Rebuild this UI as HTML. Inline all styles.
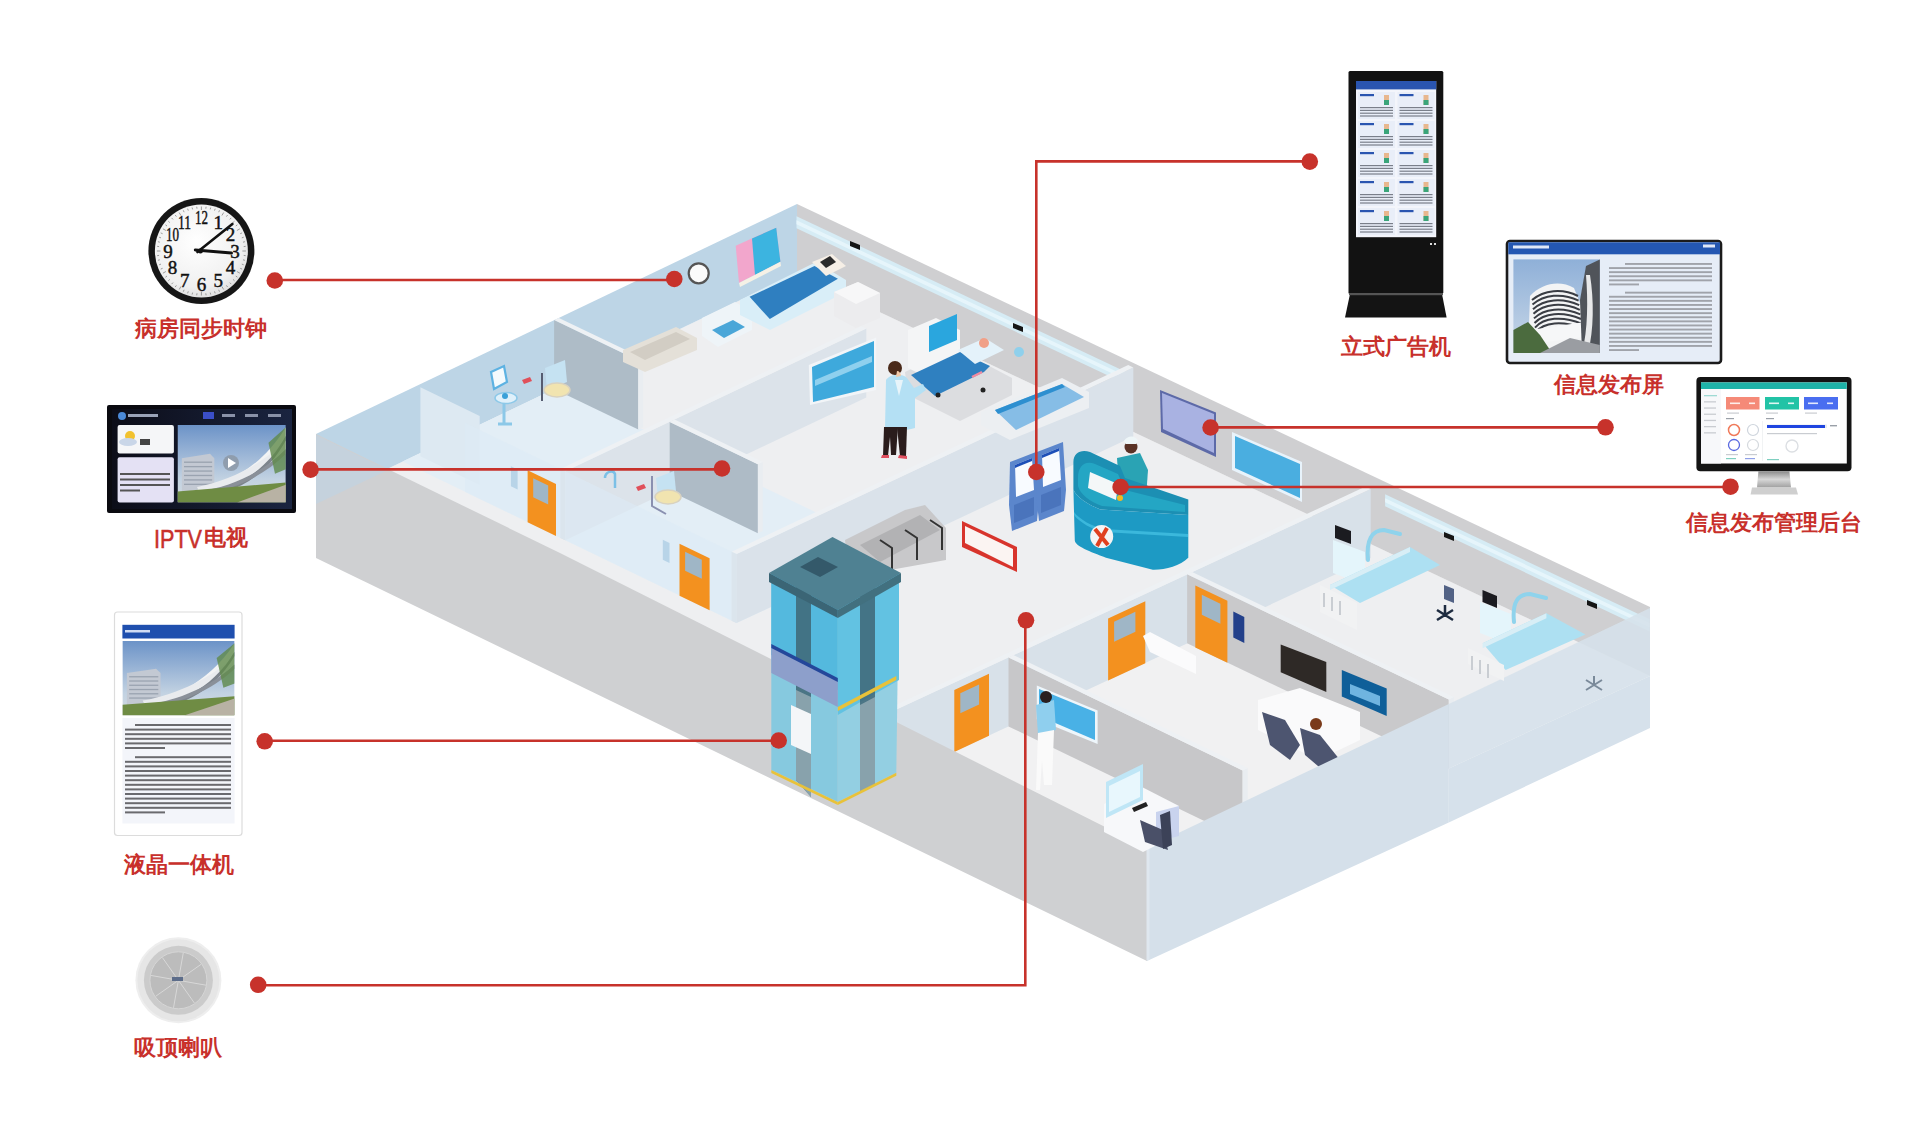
<!DOCTYPE html>
<html><head><meta charset="utf-8"><title>hospital</title>
<style>
html,body{margin:0;padding:0;background:#ffffff;}
body{width:1920px;height:1128px;overflow:hidden;position:relative;font-family:"Liberation Sans",sans-serif;}
svg{position:absolute;left:0;top:0;}
.lab text{font-family:"Liberation Sans",sans-serif;font-size:22px;font-weight:bold;fill:#c8302b;}
</style></head><body>
<svg width="1920" height="1128" viewBox="0 0 1920 1128">
<defs>
<radialGradient id="clockface" cx="0.45" cy="0.4" r="0.7"><stop offset="0" stop-color="#ffffff"/><stop offset="0.7" stop-color="#f0f0f0"/><stop offset="1" stop-color="#d5d5d5"/></radialGradient>
<linearGradient id="tvbg" x1="0" y1="0" x2="1" y2="0"><stop offset="0" stop-color="#0c0d18"/><stop offset="1" stop-color="#1a2440"/></linearGradient>
<linearGradient id="sky" x1="0" y1="0" x2="0" y2="1"><stop offset="0" stop-color="#6c93c8"/><stop offset="0.7" stop-color="#c2d2e2"/><stop offset="1" stop-color="#d4dbe0"/></linearGradient>
<linearGradient id="sky2" x1="0" y1="0" x2="0" y2="1"><stop offset="0" stop-color="#3c6cc0"/><stop offset="0.6" stop-color="#b4c8e2"/><stop offset="1" stop-color="#cfd6dc"/></linearGradient>
<linearGradient id="sky3" x1="0" y1="0" x2="0" y2="1"><stop offset="0" stop-color="#8fb0d8"/><stop offset="1" stop-color="#c9d8e8"/></linearGradient>
<linearGradient id="stand" x1="0" y1="0" x2="0" y2="1"><stop offset="0" stop-color="#8a8a8a"/><stop offset="0.5" stop-color="#d8d8d8"/><stop offset="1" stop-color="#a0a0a0"/></linearGradient>
</defs>
<g id="building">
<polygon points="316.0,503.0 1147.0,907.0 1650.0,676.0 797.0,273.0" fill="#eeeff1" />
<polygon points="316.0,503.0 797.0,273.0 797.0,204.0 316.0,434.0" fill="#bdd5e6" />
<polygon points="797.0,273.0 1650.0,676.0 1650.0,607.0 797.0,204.0" fill="#cfcfd1" />
<polygon points="796.5,228.2 1129.2,385.4 1129.2,373.4 796.5,216.2" fill="#d6ecf5" />
<polygon points="796.5,224.2 1129.2,381.4 1129.2,377.4 796.5,220.2" fill="#e6f5fb" />
<polygon points="1385.1,506.3 1649.5,631.2 1649.5,619.2 1385.1,494.3" fill="#d6ecf5" />
<polygon points="1385.1,502.3 1649.5,627.2 1649.5,623.2 1385.1,498.3" fill="#e6f5fb" />
<path d="M850,241 l10,4 l0,5 l-10,-4 z" fill="#151515"/>
<path d="M1013,323 l10,4 l0,5 l-10,-4 z" fill="#151515"/>
<path d="M1444,532 l10,4 l0,5 l-10,-4 z" fill="#151515"/>
<path d="M1587,600 l10,4 l0,5 l-10,-4 z" fill="#151515"/>
<polygon points="402.6,461.6 736.6,623.1 893.3,549.4 556.5,388.0" fill="#e3eef6" />
<polygon points="889.4,781.8 1147.0,907.0 1448.8,768.4 1187.1,643.3" fill="#f1f1f2" />
<polygon points="554.1,389.1 638.3,429.5 638.3,360.5 554.1,320.1" fill="#aebcc7" />
<polygon points="638.3,429.5 643.1,427.2 643.1,358.2 638.3,360.5" fill="#e9edf1" />
<polygon points="554.1,320.1 638.3,360.5 643.1,358.2 558.9,317.9" fill="#eef1f4" />
<polygon points="420.4,456.3 479.7,485.0 479.7,416.0 420.4,387.3" fill="#dde9f2" />
<polygon points="560.4,537.9 565.4,540.3 565.4,471.3 560.4,468.9" fill="#d9dde2" />
<polygon points="565.4,540.3 866.3,397.6 866.3,328.6 565.4,471.3" fill="#dce3ea" />
<polygon points="560.4,468.9 565.4,471.3 866.3,328.6 861.2,326.2" fill="#eef1f4" />
<polygon points="669.7,490.9 757.9,533.2 757.9,464.2 669.7,421.9" fill="#aebbc6" />
<polygon points="757.9,533.2 762.8,530.9 762.8,461.9 757.9,464.2" fill="#e9edf1" />
<polygon points="669.7,421.9 757.9,464.2 762.8,461.9 674.6,419.6" fill="#eef1f4" />
<polygon points="731.6,620.7 736.6,623.1 736.6,554.1 731.6,551.7" fill="#d9dde2" />
<polygon points="736.6,623.1 1133.3,436.5 1133.3,367.5 736.6,554.1" fill="#dae2ea" />
<polygon points="731.6,551.7 736.6,554.1 1133.3,367.5 1128.2,365.1" fill="#eef1f4" />
<path d="M491,372 l13,-6 l3,16 l-13,7 z" fill="#f4fafd" stroke="#5db2e2" stroke-width="2.2"/>
<ellipse cx="506" cy="398" rx="11" ry="5.5" fill="#dff0fa" stroke="#8cc8e8" stroke-width="1.5"/>
<circle cx="505" cy="396" r="3" fill="#3aa0d8"/>
<path d="M504,403 l0,20 M498,424 l14,0" stroke="#8cc8e8" stroke-width="3"/>
<path d="M545,368 l20,-8 l2,22 l-20,8 z" fill="#c5e2f2"/>
<ellipse cx="557" cy="390" rx="13" ry="7" fill="#f1e4b0" stroke="#d8d2c0" stroke-width="1.5"/>
<path d="M542,373 l0,28" stroke="#555c70" stroke-width="2"/>
<path d="M522,380 l8,-3 l2,4 l-8,3 z" fill="#e0505a"/>
<path d="M656,478 l18,-7 l2,20 l-18,7 z" fill="#c5e2f2"/>
<ellipse cx="668" cy="497" rx="13" ry="7" fill="#f1e4b0" stroke="#d8d2c0" stroke-width="1.5"/>
<path d="M652,476 l0,30 l14,8" stroke="#8a90b0" stroke-width="2" fill="none"/>
<path d="M636,487 l8,-3 l2,4 l-8,3 z" fill="#e0505a"/>
<path d="M605,478 c0,-6 8,-9 10,-4 l0,14" stroke="#7cc0e6" stroke-width="2.5" fill="none"/>
<polygon points="465.2,491.9 736.6,623.1 736.6,554.1 465.2,422.9" fill="#dcebf5" opacity="0.55"/>
<polygon points="527.6,522.3 556.0,536.0 556.0,484.0 527.6,470.3" fill="#f3911f" />
<polygon points="533.2,497.2 548.2,504.5 548.2,485.5 533.2,478.2" fill="#9fb6c6" />
<polygon points="510.9,486.2 517.6,489.4 517.6,469.4 510.9,466.2" fill="#b8d4e8" />
<polygon points="679.5,595.8 709.6,610.3 709.6,558.3 679.5,543.8" fill="#f3911f" />
<polygon points="685.1,570.7 701.8,578.8 701.8,559.8 685.1,551.7" fill="#9fb6c6" />
<polygon points="662.8,559.7 669.5,562.9 669.5,542.9 662.8,539.7" fill="#b8d4e8" />
<circle cx="698.7" cy="273.3" r="10" fill="#fbfbfb" stroke="#555" stroke-width="2.2"/>
<polygon points="735.7,245.7 776.2,227.7 780.4,261.7 739.0,283.0" fill="#f2a6cc" />
<polygon points="752.0,238.5 776.2,227.7 780.4,261.7 755.0,275.0" fill="#3cb4e0" />
<polygon points="739.0,283.0 780.4,261.7 781.0,266.0 740.0,287.0" fill="#f5f1e6" />
<polygon points="623.0,350.0 676.0,327.0 697.0,338.0 697.0,350.0 645.0,372.0 623.0,362.0" fill="#e4e0d8" />
<polygon points="630.0,352.0 676.0,332.0 690.0,339.0 645.0,360.0" fill="#d2cdc4" />
<polygon points="702.0,318.0 735.0,302.0 752.0,312.0 752.0,330.0 718.0,347.0 702.0,336.0" fill="#eef4f8" />
<polygon points="712.0,330.0 733.0,320.0 745.0,327.0 724.0,338.0" fill="#4aa6d8" />
<polygon points="740.0,300.0 816.0,262.0 846.0,280.0 846.0,292.0 770.0,330.0 740.0,315.0" fill="#d9eef8" />
<polygon points="749.6,296.8 814.5,266.0 837.9,278.7 769.8,319.1" fill="#2f7fc0" />
<polygon points="812.0,262.0 832.0,254.0 846.0,266.0 826.0,276.0" fill="#f6efe6" />
<polygon points="820.0,262.0 830.0,256.0 836.0,262.0 826.0,268.0" fill="#2b2b2b" />
<polygon points="834.0,292.0 858.0,282.0 880.0,293.0 880.0,318.0 856.0,328.0 834.0,316.0" fill="#ececee" />
<polygon points="834.0,292.0 858.0,282.0 880.0,293.0 856.0,304.0" fill="#f7f7f8" />
<polygon points="808.8,365.0 876.2,337.5 876.2,390.0 810.0,405.0" fill="#f2f5f8" />
<polygon points="812.0,367.0 874.0,341.0 874.0,387.0 813.0,402.0" fill="#3ea9dc" />
<polygon points="815.0,380.0 872.0,356.0 872.0,362.0 815.0,386.0" fill="#8fd0ee" />
<polygon points="905.0,372.0 955.0,348.0 1012.0,378.0 1012.0,395.0 960.0,421.0 908.0,395.0" fill="#dcdde0" />
<polygon points="908.0,330.0 936.0,318.0 960.0,330.0 960.0,368.0 932.0,380.0 908.0,368.0" fill="#f4f5f6" />
<polygon points="929.0,326.0 957.0,314.0 957.0,340.0 929.0,352.0" fill="#2aa6de" />
<polygon points="911.0,375.0 960.0,352.0 990.0,366.0 984.0,372.0 935.0,396.0" fill="#2f80c0" />
<polygon points="958.0,350.0 985.0,338.0 1004.0,350.0 975.0,364.0" fill="#e4f2fa" />
<circle cx="984" cy="343" r="5" fill="#f0a088"/>
<circle cx="1019" cy="352" r="5" fill="#8fd0ec"/>
<path d="M972,377 l10,-5" stroke="#f08aa0" stroke-width="2.5"/>
<circle cx="938" cy="395" r="2.5" fill="#222"/><circle cx="983" cy="390" r="2.5" fill="#222"/>
<path d="M886,380 C890,374 902,373 907,378 L914,388 L923,384 L926,390 L915,398 L915,428 C905,431 893,431 885,428 Z" fill="#b4e0f4"/>
<path d="M895,380 L899,396 L903,380 Z" fill="#e8f4fa"/>
<path d="M884,427 L898,427 L896,455 L891,455 L890,437 L888,456 L883,456 Z" fill="#2a1c1c"/>
<path d="M897,427 L907,427 L906,456 L900,456 Z" fill="#2a1c1c"/>
<path d="M882,455 l7,0 l0,3 l-8,0 z M899,455 l8,1 l0,3 l-9,-1 z" fill="#e05060"/>
<circle cx="895" cy="368" r="7" fill="#4a2a1a"/>
<path d="M897,371 c2,0 4,2 4,5 l-5,1 z" fill="#f1c9a8"/>
<polygon points="981.0,412.0 1062.0,378.0 1089.0,392.0 1089.0,408.0 1010.0,440.0 981.0,425.0" fill="#eceff2" />
<polygon points="995.0,410.0 1062.0,384.0 1084.0,397.0 1016.0,430.0" fill="#86bde6" />
<polygon points="995.0,410.0 1062.0,384.0 1065.0,387.0 998.0,414.0" fill="#2d8fd0" />
<polygon points="1160.0,390.0 1216.0,412.5 1216.0,457.0 1161.0,432.0" fill="#5d6aa8" />
<polygon points="1162.0,393.0 1214.0,414.0 1214.0,453.0 1163.0,429.0" fill="#a9b2e2" />
<polygon points="1232.0,432.0 1302.0,462.0 1302.0,502.0 1232.0,470.0" fill="#e8f3fb" />
<polygon points="1235.0,436.0 1300.0,464.0 1300.0,498.0 1235.0,468.0" fill="#4aaee0" />
<polygon points="845.0,540.0 905.0,510.0 925.0,505.0 946.0,528.0 946.0,560.0 890.0,570.0 848.0,565.0" fill="#c8c8ca" />
<polygon points="860.0,545.0 920.0,515.0 940.0,530.0 880.0,562.0" fill="#b2b2b4" />
<path d="M880,540.0 l12,8 l0,22" stroke="#333" stroke-width="2" fill="none"/>
<path d="M905,530.0 l12,8 l0,22" stroke="#333" stroke-width="2" fill="none"/>
<path d="M930,520.0 l12,8 l0,22" stroke="#333" stroke-width="2" fill="none"/>
<polygon points="962.0,521.0 1017.0,547.0 1017.0,572.0 962.0,547.0" fill="#d8342c" />
<polygon points="965.0,526.0 1013.0,549.0 1013.0,567.0 965.0,543.0" fill="#fbf4f2" />
<polygon points="1010.0,462.0 1036.0,452.0 1039.0,500.0 1037.0,521.0 1012.0,531.0 1009.0,505.0" fill="#5b86cc" />
<polygon points="1015.0,465.0 1032.0,458.0 1034.0,490.0 1016.0,497.0" fill="#f8fbff" />
<polygon points="1015.0,465.0 1032.0,458.0 1032.0,461.0 1015.0,468.0" fill="#1d4fb8" />
<polygon points="1014.0,505.0 1034.0,497.0 1034.0,515.0 1014.0,523.0" fill="#4a74bc" />
<polygon points="1037.0,452.0 1063.0,442.0 1066.0,490.0 1064.0,511.0 1039.0,521.0 1036.0,495.0" fill="#5b86cc" />
<polygon points="1042.0,455.0 1059.0,448.0 1061.0,480.0 1043.0,487.0" fill="#f8fbff" />
<polygon points="1042.0,455.0 1059.0,448.0 1059.0,451.0 1042.0,458.0" fill="#1d4fb8" />
<polygon points="1041.0,495.0 1061.0,487.0 1061.0,505.0 1041.0,513.0" fill="#4a74bc" />
<circle cx="1131" cy="447" r="6.5" fill="#5a3226"/>
<path d="M1124,441 c3,-6 12,-6 14,0 l-2,3 l-10,0 z" fill="#eef6f8"/>
<polygon points="1117.0,458.0 1140.0,453.0 1148.0,470.0 1146.0,498.0 1120.0,502.0" fill="#2aa3b4" />
<path d="M1073.4,489.6 L1073.4,462 C1073.4,452 1082,449 1090,452 L1120,466 L1125,478 L1188.3,499.5 L1188.3,515.1 L1100.4,509.4 C1088,505 1076,497 1073.4,489.6 Z" fill="#1c8fb3"/>
<path d="M1078,478 C1078,466 1085,460 1095,464 L1118,474 L1125,490 L1185,505 L1185,512 L1102,506 C1090,502 1080,494 1078,486 Z" fill="#24a6c4"/>
<polygon points="1090.0,472.0 1118.0,484.0 1116.0,500.0 1088.0,488.0" fill="#f4f7f8" />
<path d="M1073.4,489.6 C1076,497 1088,505 1100.4,509.4 L1188.3,515.1 L1188.3,557.7 C1180,566 1165,570 1152.8,569.7 L1106,557.7 C1090,552 1075,546 1074.8,540.6 Z" fill="#1d9ac4"/>
<path d="M1074,512 C1080,520 1092,526 1104,529 L1188,534 L1188,537 L1104,532 C1092,529 1080,523 1074,515 Z" fill="#3bb8dc"/>
<circle cx="1101.7" cy="536.5" r="11.5" fill="#f4f4f4"/>
<path d="M1095,529 L1108,545 M1107,528 L1097,546" stroke="#e0401f" stroke-width="4"/>
<circle cx="1120" cy="498" r="3" fill="#f2b820"/>
<polygon points="884.4,779.3 889.4,781.8 889.4,712.8 884.4,710.3" fill="#d9dde2" />
<polygon points="889.4,781.8 1370.7,558.0 1370.7,489.0 889.4,712.8" fill="#d8e1e9" />
<polygon points="884.4,710.3 889.4,712.8 1370.7,489.0 1365.6,486.6" fill="#eef1f4" />
<polygon points="954.3,752.0 989.0,735.8 989.0,673.8 954.3,690.0" fill="#f3911f" />
<polygon points="960.3,713.2 979.1,704.4 979.1,684.4 960.3,693.2" fill="#9fb6c6" />
<polygon points="1108.1,680.5 1145.3,663.2 1145.3,601.2 1108.1,618.5" fill="#f3911f" />
<polygon points="1114.1,641.7 1135.4,631.8 1135.4,611.8 1114.1,621.7" fill="#9fb6c6" />
<polygon points="1187.1,643.3 1448.8,768.4 1448.8,699.4 1187.1,574.3" fill="#c9c9cb" />
<polygon points="1448.8,768.4 1453.8,766.1 1453.8,697.1 1448.8,699.4" fill="#e9edf1" />
<polygon points="1187.1,574.3 1448.8,699.4 1453.8,697.1 1192.1,572.0" fill="#eef1f4" />
<polygon points="1195.3,647.5 1227.4,662.8 1227.4,600.8 1195.3,585.5" fill="#f3911f" />
<polygon points="1201.8,614.8 1220.4,623.7 1220.4,603.7 1201.8,594.8" fill="#9fb6c6" />
<polygon points="1233.3,637.6 1244.3,642.9 1244.3,616.9 1233.3,611.6" fill="#23408a" />
<polygon points="1280.7,644.6 1326.3,661.9 1326.3,691.9 1280.7,672.3" fill="#2e2926" />
<polygon points="1341.8,670.0 1386.7,688.4 1386.7,716.0 1341.8,696.5" fill="#0f5f99" />
<polygon points="1350.0,684.0 1380.0,696.0 1380.0,706.0 1350.0,694.0" fill="#6fb4e0" />
<polygon points="1258.0,700.0 1300.0,688.0 1360.0,712.0 1360.0,740.0 1318.0,760.0 1258.0,730.0" fill="#fafafb" />
<polygon points="1262.0,712.0 1285.0,720.0 1300.0,745.0 1290.0,760.0 1270.0,745.0" fill="#4d5570" />
<polygon points="1300.0,728.0 1320.0,735.0 1340.0,760.0 1325.0,772.0 1305.0,755.0" fill="#4d5570" />
<circle cx="1316" cy="724" r="6" fill="#7a3a1a"/>
<polygon points="1143.0,636.0 1150.0,632.0 1196.0,656.0 1196.0,674.0 1150.0,652.0" fill="#fbfbfc" />
<polygon points="1008.5,726.4 1242.6,839.4 1242.6,770.4 1008.5,657.4" fill="#c7c7c9" />
<polygon points="1242.6,839.4 1247.7,837.1 1247.7,768.1 1242.6,770.4" fill="#e9edf1" />
<polygon points="1008.5,657.4 1242.6,770.4 1247.7,768.1 1013.4,655.1" fill="#eef1f4" />
<polygon points="1036.8,685.6 1097.6,710.5 1097.6,744.0 1036.8,719.2" fill="#eef6fb" />
<polygon points="1039.0,689.0 1095.0,712.0 1095.0,740.0 1039.0,716.0" fill="#49b1e6" />
<polygon points="1036.0,705.0 1054.0,700.0 1056.0,730.0 1038.0,735.0" fill="#8fcfee" />
<polygon points="1038.0,733.0 1054.0,730.0 1052.0,785.0 1044.0,785.0 1042.0,760.0 1040.0,790.0 1036.0,790.0" fill="#fafafa" />
<circle cx="1046" cy="697" r="6" fill="#2a2020"/>
<polygon points="316.0,434.0 560.0,553.0 1147.0,848.0 1147.0,961.0 316.0,558.0" fill="#cfd0d2" />
<polygon points="316.0,435.0 388.0,470.0 316.0,504.0" fill="#c5d2dd" />
<polygon points="1147.0,848.0 1448.8,704.0 1448.8,822.4 1147.0,961.0" fill="#d5e0ea" />
<polygon points="1448.8,704.0 1650.0,608.0 1650.0,676.0 1448.8,768.4" fill="#d6e1eb" opacity="0.88"/>
<polygon points="1448.8,768.4 1650.0,676.0 1650.0,728.0 1448.8,822.4" fill="#d6e1eb" />
<line x1="1148" y1="848" x2="1148" y2="960" stroke="#dfe7ef" stroke-width="3"/>
<polygon points="1333.0,540.0 1365.0,552.0 1365.0,585.0 1333.0,573.0" fill="#e4f5fb" />
<polygon points="1335.0,525.0 1351.0,531.0 1351.0,544.0 1335.0,538.0" fill="#1b1b20" />
<path d="M1368,560 C1366,540 1372,530 1384,530 L1400,534" stroke="#8fd3ec" stroke-width="4" fill="none" stroke-linecap="round"/>
<polygon points="1330.0,585.0 1410.0,547.0 1440.0,565.0 1360.0,603.0" fill="#ade0f2" />
<polygon points="1330.0,585.0 1410.0,547.0 1410.0,552.0 1330.0,590.0" fill="#d8eef6" />
<polygon points="1320.0,585.0 1357.0,603.0 1357.0,630.0 1320.0,612.0" fill="#f1f2f3" />
<path d="M1324,593 l0,14 M1332,597 l0,14 M1340,601 l0,14" stroke="#c9cdd2" stroke-width="2"/>
<polygon points="1480.0,602.0 1511.0,614.0 1511.0,645.0 1480.0,633.0" fill="#e4f5fb" />
<polygon points="1482.5,590.0 1497.0,596.0 1497.0,608.0 1482.5,602.0" fill="#1b1b20" />
<path d="M1514,622 C1512,602 1518,594 1530,594 L1546,598" stroke="#8fd3ec" stroke-width="4" fill="none" stroke-linecap="round"/>
<polygon points="1482.6,643.3 1546.4,613.2 1585.4,634.5 1505.6,670.0" fill="#ade0f2" />
<polygon points="1482.6,643.3 1546.4,613.2 1546.4,618.2 1482.6,648.3" fill="#d8eef6" />
<polygon points="1468.0,648.0 1504.0,665.0 1504.0,681.0 1468.0,664.0" fill="#f1f2f3" />
<path d="M1472,656 l0,14 M1480,660 l0,14 M1488,664 l0,14" stroke="#c9cdd2" stroke-width="2"/>
<path d="M1437,610 l16,10 M1453,610 l-16,10 M1445,605 l0,12" stroke="#1d2b40" stroke-width="2.5"/>
<path d="M1586,680 l16,10 M1602,680 l-16,10 M1594,676 l0,10" stroke="#7a8a9a" stroke-width="2"/>
<path d="M1444,585 l10,4 l0,14 l-10,-4 z" fill="#2a3f6a" opacity="0.8"/>
<polygon points="1104.0,804.0 1140.0,786.0 1179.0,806.0 1179.0,834.0 1143.0,852.0 1104.0,832.0" fill="#f7f8fa" />
<polygon points="1156.0,812.0 1179.0,806.0 1179.0,836.0 1156.0,842.0" fill="#c9d3ee" />
<polygon points="1106.0,782.0 1143.0,764.0 1143.0,800.0 1106.0,818.0" fill="#bfe6f6" />
<polygon points="1109.0,786.0 1140.0,771.0 1140.0,797.0 1109.0,812.0" fill="#e8f7fd" />
<polygon points="1132.0,808.0 1146.0,802.0 1148.0,806.0 1134.0,812.0" fill="#222" />
<polygon points="1140.0,820.0 1163.0,830.0 1168.0,850.0 1145.0,842.0" fill="#4a5068" />
<polygon points="1160.0,815.0 1170.0,811.0 1172.0,845.0 1163.0,849.0" fill="#3c4258" />
<polygon points="771.3,770.0 837.8,802.0 837.8,607.8 771.3,573.2" fill="#86c9df" />
<polygon points="837.8,802.0 896.3,772.7 899.0,573.2 837.8,607.8" fill="#93cfe2" />
<polygon points="771.3,573.2 837.8,607.8 837.8,690.0 771.3,655.0" fill="#54b9de" />
<polygon points="837.8,607.8 899.0,573.2 899.0,680.0 837.8,715.0" fill="#62c2e2" />
<polygon points="796.0,585.0 811.0,593.0 811.0,797.0 796.0,780.0" fill="#3f6676" opacity="0.85"/>
<polygon points="860.0,596.0 875.0,588.0 875.0,784.0 860.0,792.0" fill="#3f6676" opacity="0.85"/>
<polygon points="796.0,690.0 811.0,697.0 811.0,797.0 796.0,780.0" fill="#8fa7b0" opacity="0.9"/>
<polygon points="860.0,705.0 875.0,697.0 875.0,784.0 860.0,792.0" fill="#8fa7b0" opacity="0.9"/>
<polygon points="769.0,573.0 832.5,537.0 901.0,573.0 837.8,610.0" fill="#4f8192" />
<polygon points="769.0,573.0 837.8,610.0 837.8,618.0 769.0,582.0" fill="#3b6575" />
<polygon points="837.8,610.0 901.0,573.0 901.0,582.0 837.8,618.0" fill="#42707f" />
<polygon points="800.0,567.0 818.0,557.0 838.0,567.0 820.0,577.0" fill="#34596a" />
<polygon points="771.3,647.0 837.8,681.0 837.8,707.0 771.3,673.0" fill="#8d9fcb" />
<polygon points="771.3,644.0 837.8,678.0 837.8,682.0 771.3,648.0" fill="#24479a" />
<polygon points="837.8,707.0 896.3,676.0 896.3,680.0 837.8,711.0" fill="#e8c23a" />
<polygon points="771.3,770.0 837.8,802.0 837.8,805.0 771.3,773.0" fill="#e8c23a" />
<polygon points="837.8,802.0 896.3,772.7 896.3,775.7 837.8,805.0" fill="#e8c23a" />
<polygon points="791.0,705.0 811.0,714.0 811.0,754.0 791.0,745.0" fill="#f4f6f8" />
</g>
<g id="devices">
<circle cx="201.4" cy="251" r="53" fill="#161616"/>
<circle cx="201.4" cy="251" r="46.5" fill="url(#clockface)"/>
<line x1="201.4" y1="206.5" x2="201.4" y2="210.0" stroke="#777" stroke-width="0.7"/>
<line x1="206.1" y1="206.7" x2="205.8" y2="208.7" stroke="#777" stroke-width="0.7"/>
<line x1="210.7" y1="207.5" x2="210.2" y2="209.4" stroke="#777" stroke-width="0.7"/>
<line x1="215.2" y1="208.7" x2="214.5" y2="210.6" stroke="#777" stroke-width="0.7"/>
<line x1="219.5" y1="210.3" x2="218.7" y2="212.2" stroke="#777" stroke-width="0.7"/>
<line x1="223.7" y1="212.5" x2="221.9" y2="215.5" stroke="#777" stroke-width="0.7"/>
<line x1="227.6" y1="215.0" x2="226.4" y2="216.6" stroke="#777" stroke-width="0.7"/>
<line x1="231.2" y1="217.9" x2="229.8" y2="219.4" stroke="#777" stroke-width="0.7"/>
<line x1="234.5" y1="221.2" x2="233.0" y2="222.6" stroke="#777" stroke-width="0.7"/>
<line x1="237.4" y1="224.8" x2="235.8" y2="226.0" stroke="#777" stroke-width="0.7"/>
<line x1="239.9" y1="228.8" x2="236.9" y2="230.5" stroke="#777" stroke-width="0.7"/>
<line x1="242.1" y1="232.9" x2="240.2" y2="233.7" stroke="#777" stroke-width="0.7"/>
<line x1="243.7" y1="237.2" x2="241.8" y2="237.9" stroke="#777" stroke-width="0.7"/>
<line x1="244.9" y1="241.7" x2="243.0" y2="242.2" stroke="#777" stroke-width="0.7"/>
<line x1="245.7" y1="246.3" x2="243.7" y2="246.6" stroke="#777" stroke-width="0.7"/>
<line x1="245.9" y1="251.0" x2="242.4" y2="251.0" stroke="#777" stroke-width="0.7"/>
<line x1="245.7" y1="255.7" x2="243.7" y2="255.4" stroke="#777" stroke-width="0.7"/>
<line x1="244.9" y1="260.3" x2="243.0" y2="259.8" stroke="#777" stroke-width="0.7"/>
<line x1="243.7" y1="264.8" x2="241.8" y2="264.1" stroke="#777" stroke-width="0.7"/>
<line x1="242.1" y1="269.1" x2="240.2" y2="268.3" stroke="#777" stroke-width="0.7"/>
<line x1="239.9" y1="273.2" x2="236.9" y2="271.5" stroke="#777" stroke-width="0.7"/>
<line x1="237.4" y1="277.2" x2="235.8" y2="276.0" stroke="#777" stroke-width="0.7"/>
<line x1="234.5" y1="280.8" x2="233.0" y2="279.4" stroke="#777" stroke-width="0.7"/>
<line x1="231.2" y1="284.1" x2="229.8" y2="282.6" stroke="#777" stroke-width="0.7"/>
<line x1="227.6" y1="287.0" x2="226.4" y2="285.4" stroke="#777" stroke-width="0.7"/>
<line x1="223.7" y1="289.5" x2="221.9" y2="286.5" stroke="#777" stroke-width="0.7"/>
<line x1="219.5" y1="291.7" x2="218.7" y2="289.8" stroke="#777" stroke-width="0.7"/>
<line x1="215.2" y1="293.3" x2="214.5" y2="291.4" stroke="#777" stroke-width="0.7"/>
<line x1="210.7" y1="294.5" x2="210.2" y2="292.6" stroke="#777" stroke-width="0.7"/>
<line x1="206.1" y1="295.3" x2="205.8" y2="293.3" stroke="#777" stroke-width="0.7"/>
<line x1="201.4" y1="295.5" x2="201.4" y2="292.0" stroke="#777" stroke-width="0.7"/>
<line x1="196.7" y1="295.3" x2="197.0" y2="293.3" stroke="#777" stroke-width="0.7"/>
<line x1="192.1" y1="294.5" x2="192.6" y2="292.6" stroke="#777" stroke-width="0.7"/>
<line x1="187.6" y1="293.3" x2="188.3" y2="291.4" stroke="#777" stroke-width="0.7"/>
<line x1="183.3" y1="291.7" x2="184.1" y2="289.8" stroke="#777" stroke-width="0.7"/>
<line x1="179.2" y1="289.5" x2="180.9" y2="286.5" stroke="#777" stroke-width="0.7"/>
<line x1="175.2" y1="287.0" x2="176.4" y2="285.4" stroke="#777" stroke-width="0.7"/>
<line x1="171.6" y1="284.1" x2="173.0" y2="282.6" stroke="#777" stroke-width="0.7"/>
<line x1="168.3" y1="280.8" x2="169.8" y2="279.4" stroke="#777" stroke-width="0.7"/>
<line x1="165.4" y1="277.2" x2="167.0" y2="276.0" stroke="#777" stroke-width="0.7"/>
<line x1="162.9" y1="273.2" x2="165.9" y2="271.5" stroke="#777" stroke-width="0.7"/>
<line x1="160.7" y1="269.1" x2="162.6" y2="268.3" stroke="#777" stroke-width="0.7"/>
<line x1="159.1" y1="264.8" x2="161.0" y2="264.1" stroke="#777" stroke-width="0.7"/>
<line x1="157.9" y1="260.3" x2="159.8" y2="259.8" stroke="#777" stroke-width="0.7"/>
<line x1="157.1" y1="255.7" x2="159.1" y2="255.4" stroke="#777" stroke-width="0.7"/>
<line x1="156.9" y1="251.0" x2="160.4" y2="251.0" stroke="#777" stroke-width="0.7"/>
<line x1="157.1" y1="246.3" x2="159.1" y2="246.6" stroke="#777" stroke-width="0.7"/>
<line x1="157.9" y1="241.7" x2="159.8" y2="242.2" stroke="#777" stroke-width="0.7"/>
<line x1="159.1" y1="237.2" x2="161.0" y2="237.9" stroke="#777" stroke-width="0.7"/>
<line x1="160.7" y1="232.9" x2="162.6" y2="233.7" stroke="#777" stroke-width="0.7"/>
<line x1="162.9" y1="228.8" x2="165.9" y2="230.5" stroke="#777" stroke-width="0.7"/>
<line x1="165.4" y1="224.8" x2="167.0" y2="226.0" stroke="#777" stroke-width="0.7"/>
<line x1="168.3" y1="221.2" x2="169.8" y2="222.6" stroke="#777" stroke-width="0.7"/>
<line x1="171.6" y1="217.9" x2="173.0" y2="219.4" stroke="#777" stroke-width="0.7"/>
<line x1="175.2" y1="215.0" x2="176.4" y2="216.6" stroke="#777" stroke-width="0.7"/>
<line x1="179.1" y1="212.5" x2="180.9" y2="215.5" stroke="#777" stroke-width="0.7"/>
<line x1="183.3" y1="210.3" x2="184.1" y2="212.2" stroke="#777" stroke-width="0.7"/>
<line x1="187.6" y1="208.7" x2="188.3" y2="210.6" stroke="#777" stroke-width="0.7"/>
<line x1="192.1" y1="207.5" x2="192.6" y2="209.4" stroke="#777" stroke-width="0.7"/>
<line x1="196.7" y1="206.7" x2="197.0" y2="208.7" stroke="#777" stroke-width="0.7"/>
<text x="218.2" y="228.5" font-family="Liberation Serif" font-size="19" text-anchor="middle" fill="#111" stroke="#111" stroke-width="0.45">1</text>
<text x="230.4" y="240.8" font-family="Liberation Serif" font-size="19" text-anchor="middle" fill="#111" stroke="#111" stroke-width="0.45">2</text>
<text x="234.9" y="257.5" font-family="Liberation Serif" font-size="19" text-anchor="middle" fill="#111" stroke="#111" stroke-width="0.45">3</text>
<text x="230.4" y="274.2" font-family="Liberation Serif" font-size="19" text-anchor="middle" fill="#111" stroke="#111" stroke-width="0.45">4</text>
<text x="218.2" y="286.5" font-family="Liberation Serif" font-size="19" text-anchor="middle" fill="#111" stroke="#111" stroke-width="0.45">5</text>
<text x="201.4" y="291.0" font-family="Liberation Serif" font-size="19" text-anchor="middle" fill="#111" stroke="#111" stroke-width="0.45">6</text>
<text x="184.7" y="286.5" font-family="Liberation Serif" font-size="19" text-anchor="middle" fill="#111" stroke="#111" stroke-width="0.45">7</text>
<text x="172.4" y="274.2" font-family="Liberation Serif" font-size="19" text-anchor="middle" fill="#111" stroke="#111" stroke-width="0.45">8</text>
<text x="167.9" y="257.5" font-family="Liberation Serif" font-size="19" text-anchor="middle" fill="#111" stroke="#111" stroke-width="0.45">9</text>
<text x="172.4" y="240.8" font-family="Liberation Serif" font-size="19" text-anchor="middle" fill="#111" stroke="#111" stroke-width="0.45" textLength="13" lengthAdjust="spacingAndGlyphs">10</text>
<text x="184.6" y="228.5" font-family="Liberation Serif" font-size="19" text-anchor="middle" fill="#111" stroke="#111" stroke-width="0.45" textLength="13" lengthAdjust="spacingAndGlyphs">11</text>
<text x="201.4" y="224.0" font-family="Liberation Serif" font-size="19" text-anchor="middle" fill="#111" stroke="#111" stroke-width="0.45" textLength="13" lengthAdjust="spacingAndGlyphs">12</text>
<line x1="197.4" y1="252" x2="232.4" y2="224" stroke="#111" stroke-width="2.6" stroke-linecap="round"/>
<line x1="195.4" y1="250" x2="231.4" y2="253" stroke="#111" stroke-width="3.2" stroke-linecap="round"/>
<circle cx="200.4" cy="251" r="2.5" fill="#111"/>
<rect x="107" y="405" width="189" height="108" rx="2" fill="#0a0a10"/>
<rect x="112" y="409" width="180" height="100" fill="url(#tvbg)"/>
<circle cx="122" cy="416" r="4" fill="#4b8ad8"/>
<rect x="128" y="414" width="30" height="3" fill="#9aa3b8"/>
<rect x="203" y="412" width="11" height="7" fill="#3b4fc8"/>
<rect x="222" y="414" width="13" height="3" fill="#8a92a8"/>
<rect x="245" y="414" width="13" height="3" fill="#8a92a8"/>
<rect x="268" y="414" width="13" height="3" fill="#8a92a8"/>
<rect x="117.6" y="425" width="56.3" height="28.5" rx="2" fill="#f5f6f8"/>
<circle cx="130" cy="436" r="5" fill="#f2c230"/>
<ellipse cx="128" cy="442" rx="9" ry="4" fill="#c9d6e8"/>
<rect x="140" y="439" width="10" height="6" fill="#444"/>
<rect x="117.6" y="457.2" width="56.3" height="45.3" rx="2" fill="#e4e1f4"/>
<rect x="120" y="473.0" width="50" height="2" fill="#555"/>
<rect x="120" y="478.5" width="50" height="2" fill="#555"/>
<rect x="120" y="484.0" width="50" height="2" fill="#555"/>
<rect x="120" y="489.5" width="20" height="2" fill="#555"/>
<svg x="177.5" y="425" width="108.3" height="77.5" viewBox="0 0 100 70" preserveAspectRatio="none"><rect x="0" y="0" width="100" height="70" fill="url(#sky)"/>
<polygon points="4,30 30,26 34,30 34,60 4,62" fill="#c3c9d3"/>
<g fill="#9aa3b0">
<rect x="6" y="33" width="26" height="1.2"/><rect x="6" y="37" width="26" height="1.2"/><rect x="6" y="41" width="26" height="1.2"/><rect x="6" y="45" width="26" height="1.2"/><rect x="6" y="49" width="26" height="1.2"/><rect x="6" y="53" width="26" height="1.2"/>
</g>
<path d="M10,60 C40,56 75,42 100,2 L100,10 C80,46 45,62 12,64 Z" fill="#f2f3f4"/>
<path d="M18,56 C50,50 80,34 100,14 L100,22 C80,42 50,56 20,60 Z" fill="#e9ebee"/>
<path d="M12,64 C45,62 80,46 100,10 L100,14 C80,50 48,64 14,66 Z" fill="#7d848c"/>
<path d="M20,60 C50,56 80,42 100,22 L100,26 C80,46 50,60 22,62 Z" fill="#8a9099"/>
<polygon points="84,16 100,2 100,40 90,44" fill="#5f8a4a" opacity="0.8"/>
<polygon points="0,60 100,52 100,70 0,70" fill="#6f8c44"/>
<polygon points="55,70 100,54 100,70" fill="#b8b2a4"/>
</svg>
<circle cx="231" cy="463" r="8" fill="#8c98a6" opacity="0.85"/>
<polygon points="228,458 236,463 228,468" fill="#fff"/>
<rect x="114.5" y="612" width="127.5" height="223.5" rx="3" fill="#ffffff" stroke="#dcdcdc" stroke-width="1.2"/>
<rect x="122.4" y="624.8" width="112.2" height="13.7" fill="#1f4fae"/>
<rect x="125" y="630" width="25" height="2.5" fill="#d0dcf4"/>
<svg x="122.4" y="641" width="112.2" height="74.5" viewBox="0 0 100 70" preserveAspectRatio="none"><rect x="0" y="0" width="100" height="70" fill="url(#sky)"/>
<polygon points="4,30 30,26 34,30 34,60 4,62" fill="#c3c9d3"/>
<g fill="#9aa3b0">
<rect x="6" y="33" width="26" height="1.2"/><rect x="6" y="37" width="26" height="1.2"/><rect x="6" y="41" width="26" height="1.2"/><rect x="6" y="45" width="26" height="1.2"/><rect x="6" y="49" width="26" height="1.2"/><rect x="6" y="53" width="26" height="1.2"/>
</g>
<path d="M10,60 C40,56 75,42 100,2 L100,10 C80,46 45,62 12,64 Z" fill="#f2f3f4"/>
<path d="M18,56 C50,50 80,34 100,14 L100,22 C80,42 50,56 20,60 Z" fill="#e9ebee"/>
<path d="M12,64 C45,62 80,46 100,10 L100,14 C80,50 48,64 14,66 Z" fill="#7d848c"/>
<path d="M20,60 C50,56 80,42 100,22 L100,26 C80,46 50,60 22,62 Z" fill="#8a9099"/>
<polygon points="84,16 100,2 100,40 90,44" fill="#5f8a4a" opacity="0.8"/>
<polygon points="0,60 100,52 100,70 0,70" fill="#6f8c44"/>
<polygon points="55,70 100,54 100,70" fill="#b8b2a4"/>
</svg>
<rect x="122.4" y="718" width="112.2" height="105.5" fill="#f3f5fa"/>
<rect x="135" y="724.0" width="96" height="2" fill="#6a6a6e"/>
<rect x="125" y="728.6" width="106" height="2" fill="#6a6a6e"/>
<rect x="125" y="733.2" width="106" height="2" fill="#6a6a6e"/>
<rect x="125" y="737.8" width="106" height="2" fill="#6a6a6e"/>
<rect x="125" y="742.4" width="106" height="2" fill="#6a6a6e"/>
<rect x="125" y="747.0" width="40" height="2" fill="#6a6a6e"/>
<rect x="135" y="756.2" width="96" height="2" fill="#6a6a6e"/>
<rect x="125" y="760.8" width="106" height="2" fill="#6a6a6e"/>
<rect x="125" y="765.4" width="106" height="2" fill="#6a6a6e"/>
<rect x="125" y="770.0" width="106" height="2" fill="#6a6a6e"/>
<rect x="125" y="774.6" width="106" height="2" fill="#6a6a6e"/>
<rect x="125" y="779.2" width="106" height="2" fill="#6a6a6e"/>
<rect x="125" y="783.8" width="106" height="2" fill="#6a6a6e"/>
<rect x="125" y="788.4" width="106" height="2" fill="#6a6a6e"/>
<rect x="125" y="793.0" width="106" height="2" fill="#6a6a6e"/>
<rect x="125" y="797.6" width="106" height="2" fill="#6a6a6e"/>
<rect x="125" y="802.2" width="106" height="2" fill="#6a6a6e"/>
<rect x="125" y="806.8" width="106" height="2" fill="#6a6a6e"/>
<rect x="125" y="811.4" width="40" height="2" fill="#6a6a6e"/>
<circle cx="178.4" cy="980.3" r="43" fill="#eeeeee"/>
<circle cx="178.4" cy="980.3" r="41" fill="#e6e6e6"/>
<circle cx="178.4" cy="980.3" r="34.5" fill="#cbcbcb"/>
<circle cx="178.4" cy="980.3" r="28.5" fill="#bcbcbc" stroke="#d6d6d6" stroke-width="1"/>
<line x1="178.4" y1="980.3" x2="206.0" y2="985.2" stroke="#d8d8d8" stroke-width="1"/>
<line x1="178.4" y1="980.3" x2="194.5" y2="1003.2" stroke="#d8d8d8" stroke-width="1"/>
<line x1="178.4" y1="980.3" x2="173.5" y2="1007.9" stroke="#d8d8d8" stroke-width="1"/>
<line x1="178.4" y1="980.3" x2="155.5" y2="996.4" stroke="#d8d8d8" stroke-width="1"/>
<line x1="178.4" y1="980.3" x2="150.8" y2="975.4" stroke="#d8d8d8" stroke-width="1"/>
<line x1="178.4" y1="980.3" x2="162.3" y2="957.4" stroke="#d8d8d8" stroke-width="1"/>
<line x1="178.4" y1="980.3" x2="183.3" y2="952.7" stroke="#d8d8d8" stroke-width="1"/>
<line x1="178.4" y1="980.3" x2="201.3" y2="964.2" stroke="#d8d8d8" stroke-width="1"/>
<rect x="172" y="977" width="11" height="4" fill="#5d6d8a"/>
<rect x="1348.5" y="70.9" width="94.8" height="223.1" rx="1.5" fill="#121212"/>
<rect x="1356" y="81" width="80.2" height="156.2" fill="#f3f5fb"/>
<rect x="1356" y="81" width="80.2" height="8.4" fill="#2a55b0"/>
<rect x="1358.0" y="92" width="37" height="27" fill="#e9eef8"/>
<rect x="1360.0" y="94" width="14" height="2.2" fill="#2a55b0"/>
<rect x="1384.0" y="95" width="5" height="10" fill="#e8b78e"/>
<rect x="1384.0" y="100" width="5" height="5" fill="#3aa57a"/>
<rect x="1360.0" y="107.0" width="33" height="1.2" fill="#7a7f8a"/>
<rect x="1360.0" y="109.8" width="33" height="1.2" fill="#7a7f8a"/>
<rect x="1360.0" y="112.6" width="33" height="1.2" fill="#7a7f8a"/>
<rect x="1360.0" y="115.4" width="33" height="1.2" fill="#7a7f8a"/>
<rect x="1397.5" y="92" width="37" height="27" fill="#e9eef8"/>
<rect x="1399.5" y="94" width="14" height="2.2" fill="#2a55b0"/>
<rect x="1423.5" y="95" width="5" height="10" fill="#e8b78e"/>
<rect x="1423.5" y="100" width="5" height="5" fill="#3aa57a"/>
<rect x="1399.5" y="107.0" width="33" height="1.2" fill="#7a7f8a"/>
<rect x="1399.5" y="109.8" width="33" height="1.2" fill="#7a7f8a"/>
<rect x="1399.5" y="112.6" width="33" height="1.2" fill="#7a7f8a"/>
<rect x="1399.5" y="115.4" width="33" height="1.2" fill="#7a7f8a"/>
<rect x="1358.0" y="121" width="37" height="27" fill="#e9eef8"/>
<rect x="1360.0" y="123" width="14" height="2.2" fill="#2a55b0"/>
<rect x="1384.0" y="124" width="5" height="10" fill="#e8b78e"/>
<rect x="1384.0" y="129" width="5" height="5" fill="#3aa57a"/>
<rect x="1360.0" y="136.0" width="33" height="1.2" fill="#7a7f8a"/>
<rect x="1360.0" y="138.8" width="33" height="1.2" fill="#7a7f8a"/>
<rect x="1360.0" y="141.6" width="33" height="1.2" fill="#7a7f8a"/>
<rect x="1360.0" y="144.4" width="33" height="1.2" fill="#7a7f8a"/>
<rect x="1397.5" y="121" width="37" height="27" fill="#e9eef8"/>
<rect x="1399.5" y="123" width="14" height="2.2" fill="#2a55b0"/>
<rect x="1423.5" y="124" width="5" height="10" fill="#e8b78e"/>
<rect x="1423.5" y="129" width="5" height="5" fill="#3aa57a"/>
<rect x="1399.5" y="136.0" width="33" height="1.2" fill="#7a7f8a"/>
<rect x="1399.5" y="138.8" width="33" height="1.2" fill="#7a7f8a"/>
<rect x="1399.5" y="141.6" width="33" height="1.2" fill="#7a7f8a"/>
<rect x="1399.5" y="144.4" width="33" height="1.2" fill="#7a7f8a"/>
<rect x="1358.0" y="150" width="37" height="27" fill="#e9eef8"/>
<rect x="1360.0" y="152" width="14" height="2.2" fill="#2a55b0"/>
<rect x="1384.0" y="153" width="5" height="10" fill="#e8b78e"/>
<rect x="1384.0" y="158" width="5" height="5" fill="#3aa57a"/>
<rect x="1360.0" y="165.0" width="33" height="1.2" fill="#7a7f8a"/>
<rect x="1360.0" y="167.8" width="33" height="1.2" fill="#7a7f8a"/>
<rect x="1360.0" y="170.6" width="33" height="1.2" fill="#7a7f8a"/>
<rect x="1360.0" y="173.4" width="33" height="1.2" fill="#7a7f8a"/>
<rect x="1397.5" y="150" width="37" height="27" fill="#e9eef8"/>
<rect x="1399.5" y="152" width="14" height="2.2" fill="#2a55b0"/>
<rect x="1423.5" y="153" width="5" height="10" fill="#e8b78e"/>
<rect x="1423.5" y="158" width="5" height="5" fill="#3aa57a"/>
<rect x="1399.5" y="165.0" width="33" height="1.2" fill="#7a7f8a"/>
<rect x="1399.5" y="167.8" width="33" height="1.2" fill="#7a7f8a"/>
<rect x="1399.5" y="170.6" width="33" height="1.2" fill="#7a7f8a"/>
<rect x="1399.5" y="173.4" width="33" height="1.2" fill="#7a7f8a"/>
<rect x="1358.0" y="179" width="37" height="27" fill="#e9eef8"/>
<rect x="1360.0" y="181" width="14" height="2.2" fill="#2a55b0"/>
<rect x="1384.0" y="182" width="5" height="10" fill="#e8b78e"/>
<rect x="1384.0" y="187" width="5" height="5" fill="#3aa57a"/>
<rect x="1360.0" y="194.0" width="33" height="1.2" fill="#7a7f8a"/>
<rect x="1360.0" y="196.8" width="33" height="1.2" fill="#7a7f8a"/>
<rect x="1360.0" y="199.6" width="33" height="1.2" fill="#7a7f8a"/>
<rect x="1360.0" y="202.4" width="33" height="1.2" fill="#7a7f8a"/>
<rect x="1397.5" y="179" width="37" height="27" fill="#e9eef8"/>
<rect x="1399.5" y="181" width="14" height="2.2" fill="#2a55b0"/>
<rect x="1423.5" y="182" width="5" height="10" fill="#e8b78e"/>
<rect x="1423.5" y="187" width="5" height="5" fill="#3aa57a"/>
<rect x="1399.5" y="194.0" width="33" height="1.2" fill="#7a7f8a"/>
<rect x="1399.5" y="196.8" width="33" height="1.2" fill="#7a7f8a"/>
<rect x="1399.5" y="199.6" width="33" height="1.2" fill="#7a7f8a"/>
<rect x="1399.5" y="202.4" width="33" height="1.2" fill="#7a7f8a"/>
<rect x="1358.0" y="208" width="37" height="27" fill="#e9eef8"/>
<rect x="1360.0" y="210" width="14" height="2.2" fill="#2a55b0"/>
<rect x="1384.0" y="211" width="5" height="10" fill="#e8b78e"/>
<rect x="1384.0" y="216" width="5" height="5" fill="#3aa57a"/>
<rect x="1360.0" y="223.0" width="33" height="1.2" fill="#7a7f8a"/>
<rect x="1360.0" y="225.8" width="33" height="1.2" fill="#7a7f8a"/>
<rect x="1360.0" y="228.6" width="33" height="1.2" fill="#7a7f8a"/>
<rect x="1360.0" y="231.4" width="33" height="1.2" fill="#7a7f8a"/>
<rect x="1397.5" y="208" width="37" height="27" fill="#e9eef8"/>
<rect x="1399.5" y="210" width="14" height="2.2" fill="#2a55b0"/>
<rect x="1423.5" y="211" width="5" height="10" fill="#e8b78e"/>
<rect x="1423.5" y="216" width="5" height="5" fill="#3aa57a"/>
<rect x="1399.5" y="223.0" width="33" height="1.2" fill="#7a7f8a"/>
<rect x="1399.5" y="225.8" width="33" height="1.2" fill="#7a7f8a"/>
<rect x="1399.5" y="228.6" width="33" height="1.2" fill="#7a7f8a"/>
<rect x="1399.5" y="231.4" width="33" height="1.2" fill="#7a7f8a"/>
<rect x="1430" y="243" width="2" height="2" fill="#ddd"/><rect x="1434" y="243" width="2" height="2" fill="#ddd"/>
<polygon points="1350,294 1442,294 1446.6,317.4 1345,317.4" fill="#141414"/>
<rect x="1349" y="293" width="94" height="2.2" fill="#555"/>
<rect x="1507" y="241" width="214" height="122" rx="3" fill="#e6edf7" stroke="#1b1b1b" stroke-width="2.6"/>
<rect x="1508.3" y="242.3" width="211.7" height="12" fill="#2457b2"/>
<rect x="1513" y="245.5" width="36" height="3" fill="#dfe8f8"/>
<rect x="1703" y="244.5" width="12" height="3" fill="#dfe8f8"/>
<rect x="1513.4" y="259.4" width="86.4" height="93.5" fill="url(#sky3)"/>
<path d="M1530,296 C1542,283 1560,280 1574,288 L1586,318 L1586,352.9 L1528,352.9 Z" fill="#f3f4f5"/>
<path d="M1532.0,300.0 C1544,290.0 1562,288.0 1578.0,296.0" stroke="#3a3d44" stroke-width="2" fill="none"/>
<path d="M1532.5,304.6 C1544,294.6 1562,292.6 1578.6,300.6" stroke="#3a3d44" stroke-width="2" fill="none"/>
<path d="M1533.0,309.2 C1544,299.2 1562,297.2 1579.2,305.2" stroke="#3a3d44" stroke-width="2" fill="none"/>
<path d="M1533.5,313.8 C1544,303.8 1562,301.8 1579.8,309.8" stroke="#3a3d44" stroke-width="2" fill="none"/>
<path d="M1534.0,318.4 C1544,308.4 1562,306.4 1580.4,314.4" stroke="#3a3d44" stroke-width="2" fill="none"/>
<path d="M1534.5,323.0 C1544,313.0 1562,311.0 1581.0,319.0" stroke="#3a3d44" stroke-width="2" fill="none"/>
<path d="M1535.0,327.6 C1544,317.6 1562,315.6 1581.6,323.6" stroke="#3a3d44" stroke-width="2" fill="none"/>
<path d="M1535.5,332.2 C1544,322.2 1562,320.2 1582.2,328.2" stroke="#3a3d44" stroke-width="2" fill="none"/>
<path d="M1536.0,336.8 C1544,326.8 1562,324.8 1582.8,332.8" stroke="#3a3d44" stroke-width="2" fill="none"/>
<path d="M1530,330 L1585,322 L1590,336 L1532,344 Z" fill="#f6f7f8"/>
<polygon points="1586,266 1599.8,259.4 1599.8,352.9 1582,352.9 1580,300" fill="#50545a"/>
<path d="M1590,275 C1594,300 1594,330 1588,352.9 L1582,352.9 C1588,330 1588,300 1586,275 Z" fill="#e8e9ea"/>
<polygon points="1513.4,330 1528,322 1540,335 1552,352.9 1513.4,352.9" fill="#4b6b3e"/>
<polygon points="1540,352.9 1570,338 1599.8,345 1599.8,352.9" fill="#9a9da2"/>
<rect x="1625" y="263.0" width="87" height="1.9" fill="#a0a3aa"/>
<rect x="1609" y="267.1" width="103" height="1.9" fill="#a0a3aa"/>
<rect x="1609" y="271.2" width="103" height="1.9" fill="#a0a3aa"/>
<rect x="1609" y="275.3" width="103" height="1.9" fill="#a0a3aa"/>
<rect x="1609" y="279.4" width="103" height="1.9" fill="#a0a3aa"/>
<rect x="1609" y="283.5" width="30" height="1.9" fill="#a0a3aa"/>
<rect x="1625" y="291.7" width="87" height="1.9" fill="#a0a3aa"/>
<rect x="1609" y="295.8" width="103" height="1.9" fill="#a0a3aa"/>
<rect x="1609" y="299.9" width="103" height="1.9" fill="#a0a3aa"/>
<rect x="1609" y="304.0" width="103" height="1.9" fill="#a0a3aa"/>
<rect x="1609" y="308.1" width="103" height="1.9" fill="#a0a3aa"/>
<rect x="1609" y="312.2" width="103" height="1.9" fill="#a0a3aa"/>
<rect x="1609" y="316.3" width="103" height="1.9" fill="#a0a3aa"/>
<rect x="1609" y="320.4" width="103" height="1.9" fill="#a0a3aa"/>
<rect x="1609" y="324.5" width="103" height="1.9" fill="#a0a3aa"/>
<rect x="1609" y="328.6" width="103" height="1.9" fill="#a0a3aa"/>
<rect x="1609" y="332.7" width="103" height="1.9" fill="#a0a3aa"/>
<rect x="1609" y="336.8" width="103" height="1.9" fill="#a0a3aa"/>
<rect x="1609" y="340.9" width="103" height="1.9" fill="#a0a3aa"/>
<rect x="1609" y="345.0" width="103" height="1.9" fill="#a0a3aa"/>
<rect x="1609" y="349.1" width="30" height="1.9" fill="#a0a3aa"/>
<rect x="1696.4" y="377.1" width="155.1" height="94.1" rx="4" fill="#141414"/>
<rect x="1701" y="382.4" width="145.8" height="81.1" fill="#ffffff"/>
<rect x="1701" y="382.4" width="145.8" height="6.6" fill="#1fb3a8"/>
<rect x="1701" y="389" width="20" height="74.5" fill="#f7f8fa"/>
<rect x="1726" y="397" width="33.5" height="12.5" fill="#f58a78"/>
<rect x="1765" y="397" width="34" height="12.5" fill="#22c3a6"/>
<rect x="1804" y="397" width="34" height="12.5" fill="#4a6ef0"/>
<rect x="1704" y="395.0" width="13" height="1.3" fill="#9fdad4"/>
<rect x="1704" y="401.2" width="12" height="1.3" fill="#c9ccd1"/>
<rect x="1704" y="407.4" width="12" height="1.3" fill="#c9ccd1"/>
<rect x="1704" y="413.6" width="12" height="1.3" fill="#c9ccd1"/>
<rect x="1704" y="419.8" width="12" height="1.3" fill="#c9ccd1"/>
<rect x="1704" y="426.0" width="12" height="1.3" fill="#c9ccd1"/>
<rect x="1704" y="432.2" width="12" height="1.3" fill="#c9ccd1"/>
<rect x="1730" y="402.5" width="10" height="1.6" fill="#ffffff" opacity="0.85"/>
<rect x="1749" y="402.5" width="6" height="1.6" fill="#ffffff" opacity="0.85"/>
<rect x="1727" y="412.5" width="12" height="1.2" fill="#c9ccd1"/>
<rect x="1769" y="402.5" width="10" height="1.6" fill="#ffffff" opacity="0.85"/>
<rect x="1788" y="402.5" width="6" height="1.6" fill="#ffffff" opacity="0.85"/>
<rect x="1766" y="412.5" width="12" height="1.2" fill="#c9ccd1"/>
<rect x="1808" y="402.5" width="10" height="1.6" fill="#ffffff" opacity="0.85"/>
<rect x="1827" y="402.5" width="6" height="1.6" fill="#ffffff" opacity="0.85"/>
<rect x="1805" y="412.5" width="12" height="1.2" fill="#c9ccd1"/>
<rect x="1726" y="418" width="8" height="1.2" fill="#9aa0a8"/><rect x="1766" y="418" width="8" height="1.2" fill="#9aa0a8"/>
<rect x="1767" y="424.5" width="60" height="3.6" fill="#e8ebf0"/>
<rect x="1830" y="425" width="7" height="1.4" fill="#9aa0a8"/>
<rect x="1767" y="433" width="50" height="1.2" fill="#c9ccd1"/>
<rect x="1762" y="421" width="0.8" height="40" fill="#eef0f2"/>
<rect x="1726" y="454" width="12" height="1.2" fill="#c9ccd1"/><rect x="1745" y="454" width="12" height="1.2" fill="#c9ccd1"/>
<rect x="1726" y="458" width="10" height="1.2" fill="#7fcfc0"/><rect x="1745" y="458" width="10" height="1.2" fill="#8fa0e8"/>
<rect x="1767" y="459" width="12" height="1.2" fill="#7fcfc0"/>
<rect x="1767" y="425" width="58" height="3" fill="#1f45e0"/>
<circle cx="1734" cy="430" r="5.5" fill="none" stroke="#f07a5a" stroke-width="1.5"/>
<circle cx="1753" cy="430" r="5.5" fill="none" stroke="#cfd5dd" stroke-width="1.2"/>
<circle cx="1734" cy="445" r="5.5" fill="none" stroke="#5a6ae0" stroke-width="1.3"/>
<circle cx="1753" cy="445" r="5.5" fill="none" stroke="#d5d9de" stroke-width="1.2"/>
<circle cx="1792" cy="446" r="6" fill="none" stroke="#dcdfe3" stroke-width="1.4"/>
<polygon points="1758.4,471.2 1789.4,471.2 1791,487.5 1757,487.5" fill="url(#stand)"/>
<polygon points="1752,487.5 1796,487.5 1798,494.5 1750.6,494.5" fill="#cfcfcf"/>
</g>
<g id="lines">
<path d="M274.8,280 H674.3" stroke="#c7322b" stroke-width="2.6" fill="none"/>
<circle cx="274.8" cy="280.5" r="8.3" fill="#c7322b"/>
<circle cx="674.3" cy="279" r="8.3" fill="#c7322b"/>
<path d="M310.6,469.4 H722" stroke="#c7322b" stroke-width="2.6" fill="none"/>
<circle cx="310.6" cy="469.6" r="8.3" fill="#c7322b"/>
<circle cx="722" cy="468.5" r="8.3" fill="#c7322b"/>
<path d="M264.7,740.8 H778.7" stroke="#c7322b" stroke-width="2.6" fill="none"/>
<circle cx="264.7" cy="741.3" r="8.3" fill="#c7322b"/>
<circle cx="778.7" cy="740.5" r="8.3" fill="#c7322b"/>
<path d="M258.2,985.3 H1025.3 V620.3" stroke="#c7322b" stroke-width="2.6" fill="none"/>
<circle cx="258.2" cy="984.8" r="8.3" fill="#c7322b"/>
<circle cx="1026" cy="620.3" r="8.3" fill="#c7322b"/>
<path d="M1309.8,161.4 H1036.3 V472" stroke="#c7322b" stroke-width="2.6" fill="none"/>
<circle cx="1309.8" cy="161.6" r="8.3" fill="#c7322b"/>
<circle cx="1036.3" cy="472" r="8.3" fill="#c7322b"/>
<path d="M1210.6,427.4 H1605.5" stroke="#c7322b" stroke-width="2.6" fill="none"/>
<circle cx="1210.6" cy="427.5" r="8.3" fill="#c7322b"/>
<circle cx="1605.5" cy="427.3" r="8.3" fill="#c7322b"/>
<path d="M1120.6,487 H1730.5" stroke="#c7322b" stroke-width="2.6" fill="none"/>
<circle cx="1120.6" cy="487" r="8.3" fill="#c7322b"/>
<circle cx="1730.5" cy="486.7" r="8.3" fill="#c7322b"/>
</g>
<g class="lab">
<text x="200.6" y="336" text-anchor="middle">病房同步时钟</text>
<text x="178.8" y="871.8" text-anchor="middle">液晶一体机</text>
<text x="177.5" y="1054.5" text-anchor="middle">吸顶喇叭</text>
<text x="1395.5" y="353.5" text-anchor="middle">立式广告机</text>
<text x="1609" y="391.5" text-anchor="middle">信息发布屏</text>
<text x="1774" y="529.5" text-anchor="middle">信息发布管理后台</text>
<text x="154" y="547.5" style="font-weight:normal;font-size:26px" stroke="#c8302b" stroke-width="0.55" textLength="48" lengthAdjust="spacingAndGlyphs">IPTV</text>
<text x="226" y="544.5" text-anchor="middle">电视</text>
</g>
</svg>
</body></html>
